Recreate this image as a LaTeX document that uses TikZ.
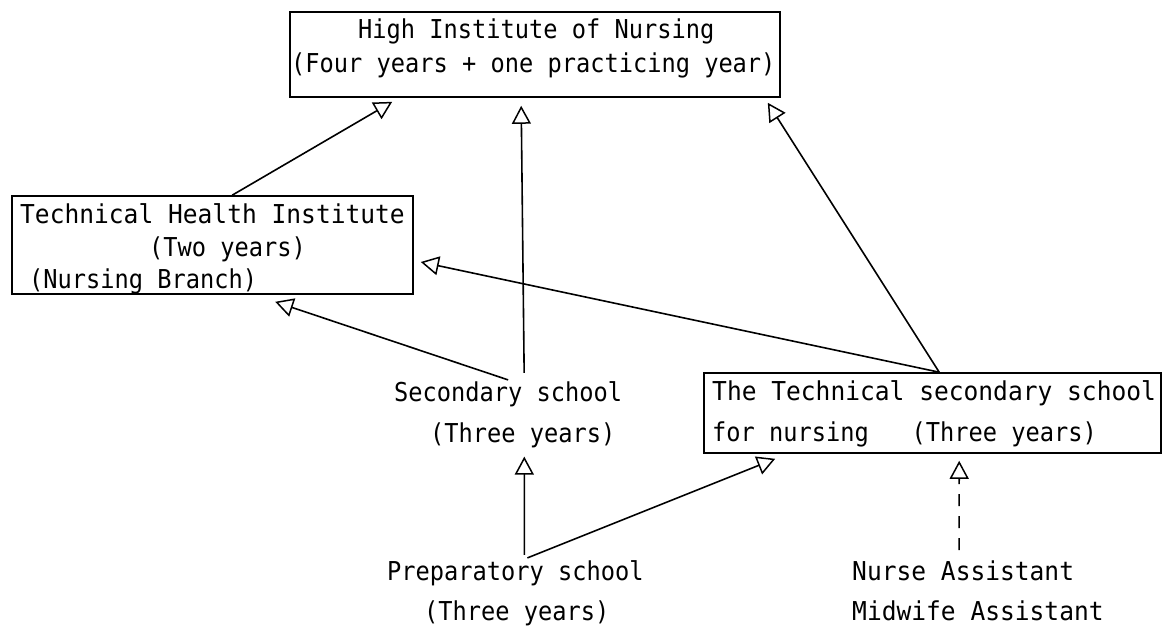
\documentclass[tikz,border=0pt]{standalone}
\usepackage{fontspec}
\usetikzlibrary{arrows.meta,calc}
\newfontfamily\tw[FakeStretch=0.91]{DejaVu Sans Mono}
\newfontfamily\tww[FakeStretch=0.945]{DejaVu Sans Mono}
\begin{document}
\begin{tikzpicture}[x=1pt,y=-1pt,
  txt/.style={font={\tw\fontsize{26pt}{40pt}\selectfont}, inner sep=2pt, anchor=base west},
  wtxt/.style={txt, font={\tww\fontsize{26pt}{40pt}\selectfont}},
  box/.style={draw, line width=1.6pt, inner sep=0pt},
  conn/.style={line width=1.6pt, -{Triangle[open,length=18pt,width=19pt,line width=1.5pt]}},
  dashconn/.style={conn, dash pattern=on 12pt off 10pt}]
\useasboundingbox (0,0) rectangle (1167,628);
% boxes
\node[box, minimum width=490pt, minimum height=85pt] (hin) at (535,54.5) {};
\node[box, minimum width=401pt, minimum height=98pt] (thi) at (212.5,245) {};
\node[box, minimum width=457pt, minimum height=80pt] (tss) at (932.5,413) {};
% texts
\node[txt] (hinA) at (356,39) {High Institute of Nursing};
\node[txt] (hinB) at (289,73) {(Four years + one practicing year)};
\node[wtxt] (thiA) at (18,224) {Technical Health Institute};
\node[txt] (thiB) at (147,257) {(Two years)};
\node[txt] (thiC) at (27,289) {(Nursing Branch)};
\node[wtxt] (tssA) at (710,400) {The Technical secondary school};
\node[txt] (tssB) at (710,441) {for nursing~~~(Three years)};
\node[txt] (secA) at (392,401) {Secondary school};
\node[txt] (secB) at (428,442) {(Three years)};
\node[txt] (prepA) at (385,580) {Preparatory school};
\node[txt] (prepB) at (422,620) {(Three years)};
\node[wtxt] (nurA) at (850,580) {Nurse Assistant};
\node[wtxt] (nurB) at (850,620) {Midwife Assistant};
% connectors
\draw[conn] ($(thi.north west)+(221,0)$) -- ($(hin.south west)+(103,4)$);
\draw[conn] ($(secA.north)+(16,-6)$) -- ($(hin.south west)+(232,8)$);
\draw[conn] ($(tss.north west)+(236,0)$) -- ($(hin.south east)+(-13,5)$);
\draw[conn] ($(tss.north west)+(236,0)$) -- ($(thi.east)+(7,17)$);
\draw[conn] ($(secA.north)+(0,1)$) -- ($(thi.south west)+(264,7)$);
\draw[conn] ($(prepA.north)+(9,-3)$) -- ($(secB.south)+(1.5,7)$);
\draw[conn] ($(prepA.north)+(12,0)$) -- ($(tss.south west)+(72,5)$);
\draw[dashconn] ($(nurA.north)+(-4,-8)$) -- ($(tss.south west)+(256,7)$);
\end{tikzpicture}
\end{document}
